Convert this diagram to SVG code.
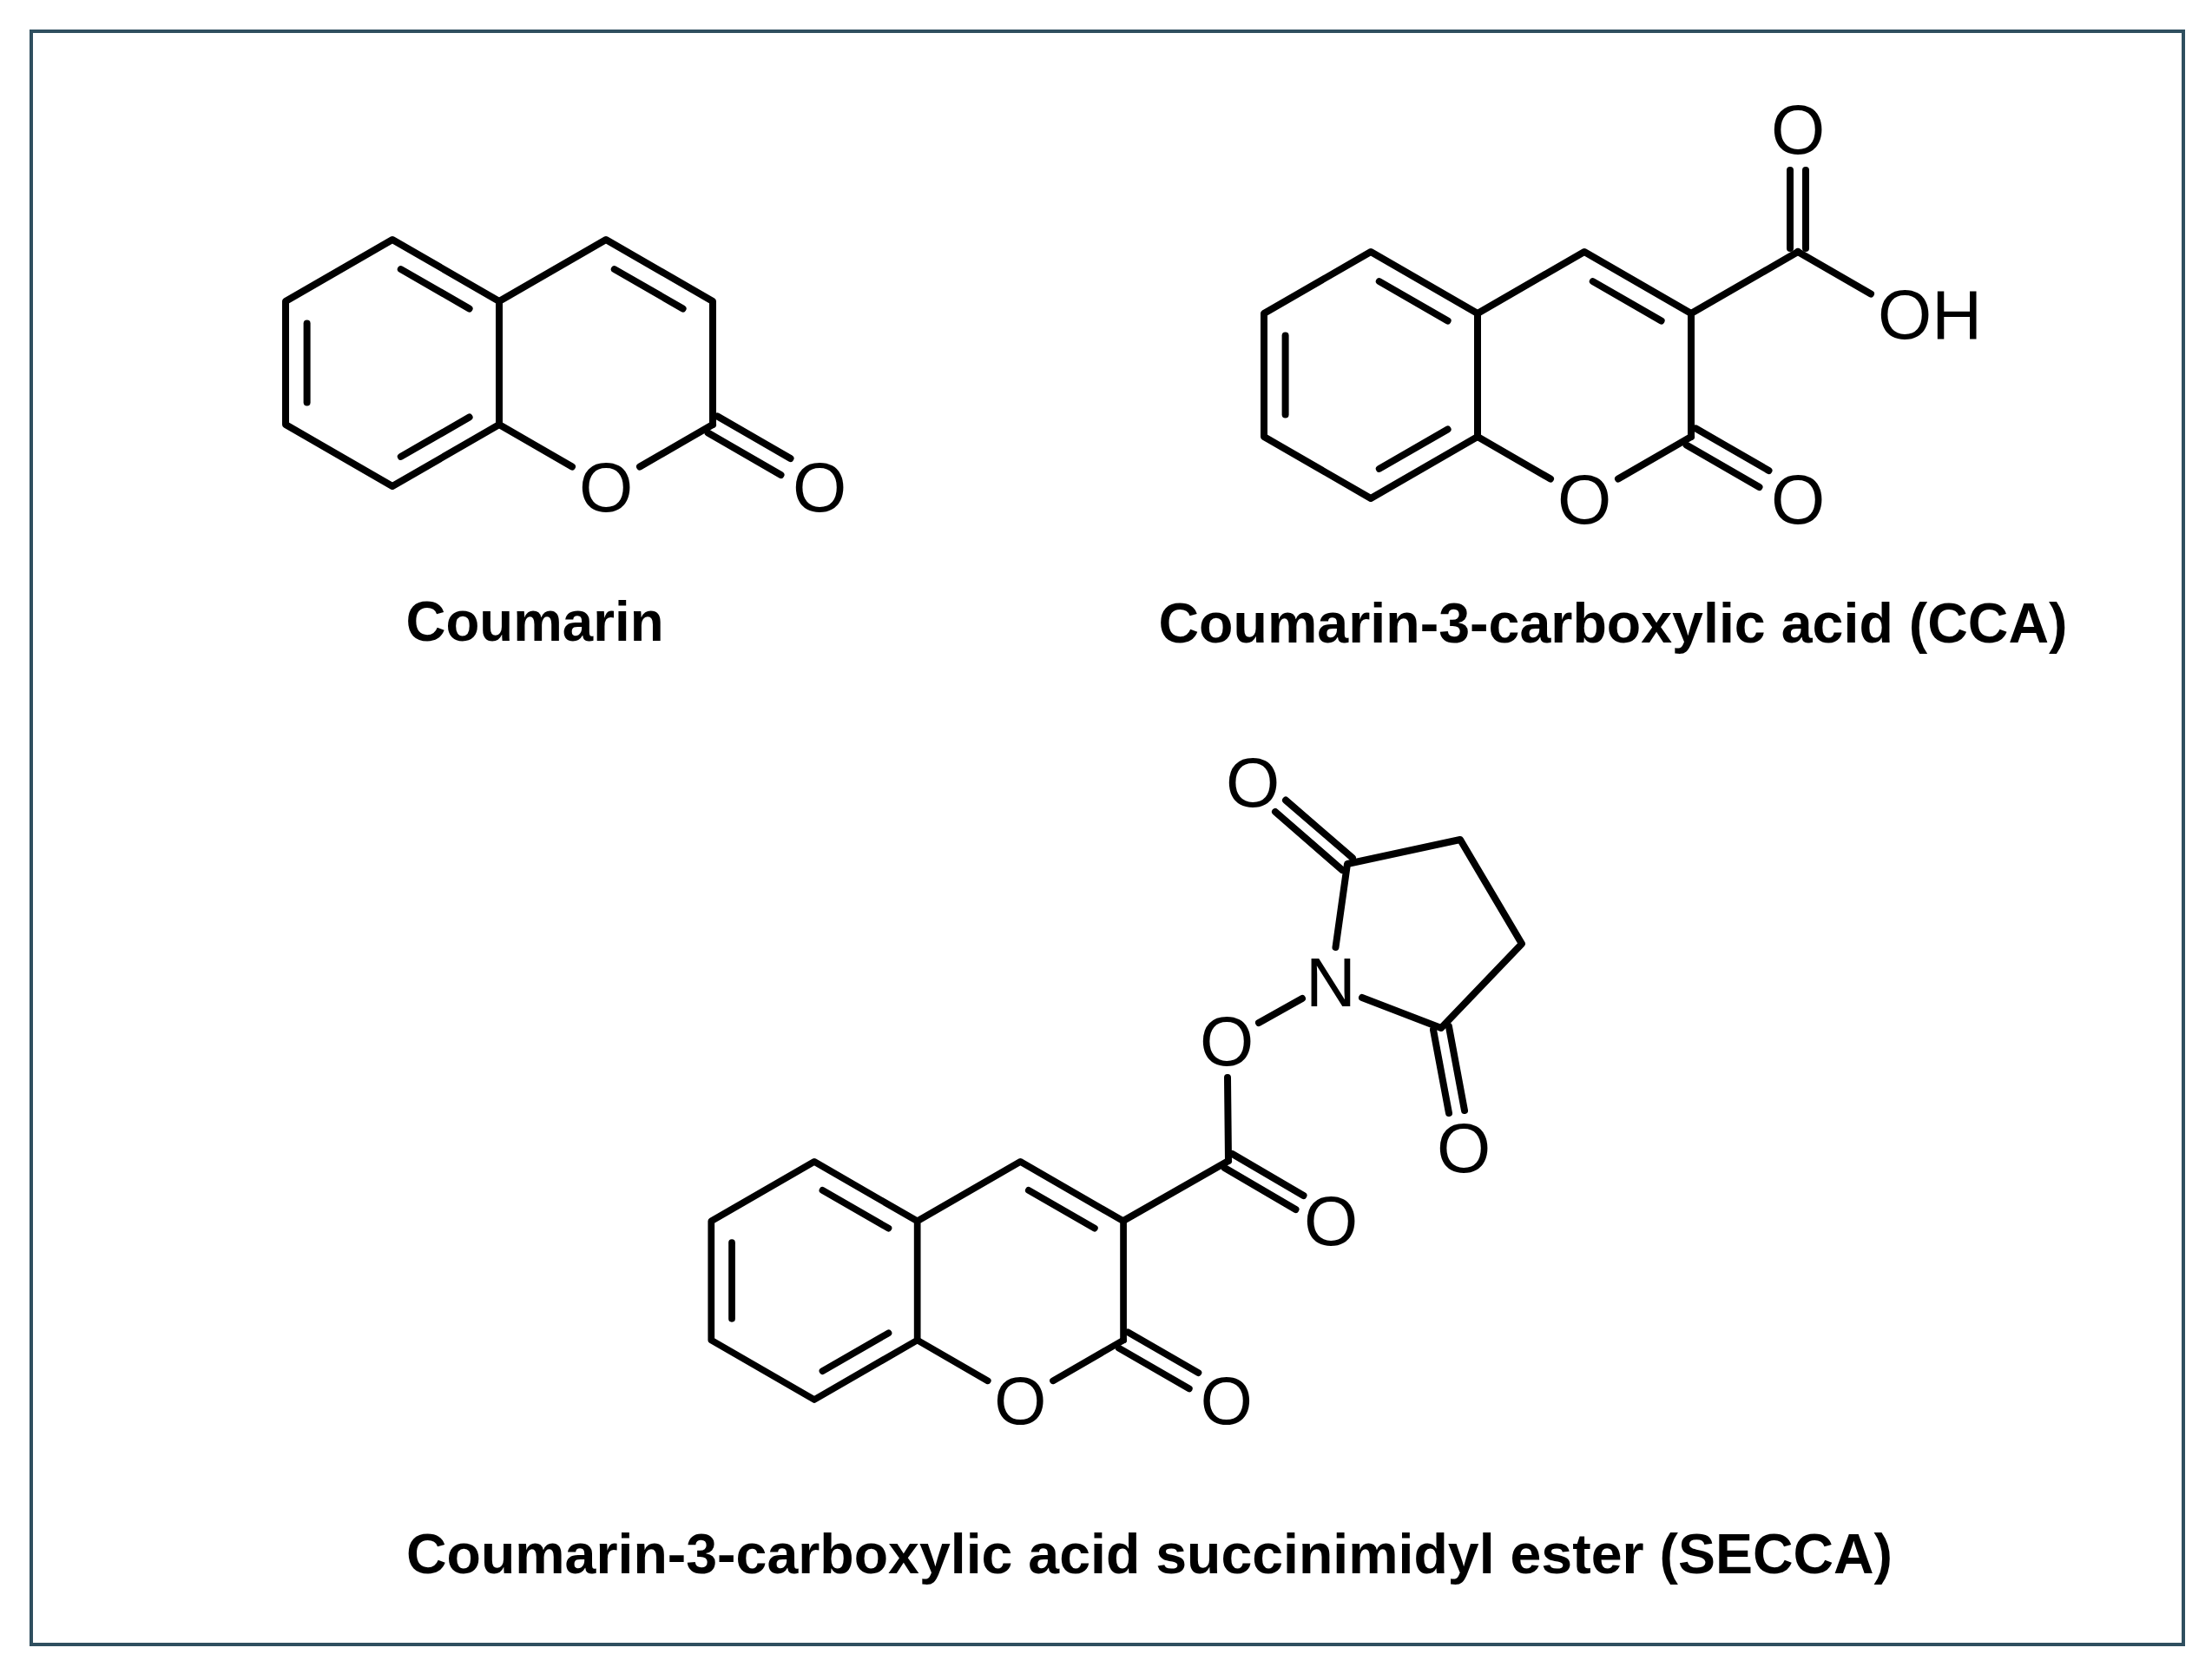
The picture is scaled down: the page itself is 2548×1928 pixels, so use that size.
<svg xmlns="http://www.w3.org/2000/svg" width="2548" height="1928" viewBox="0 0 2548 1928">
<style>
.b{stroke:#000;stroke-width:8;fill:none;stroke-linecap:round;stroke-linejoin:round}
.a{font-family:"Liberation Sans",Arial,sans-serif;font-size:80px;fill:#000;text-anchor:middle}
.lbl{font-family:"Liberation Sans",Arial,sans-serif;font-size:64px;font-weight:bold;fill:#000;text-anchor:middle}
</style>
<defs>
<g id="core">
<polyline class="b" points="575,347 452,276 329,347 329,489 452,560 575,489 575,347 698,276 821,347 821,489"/>
<line class="b" x1="461.8" y1="310.1" x2="540.6" y2="355.5"/>
<line class="b" x1="353.6" y1="372.6" x2="353.6" y2="463.4"/>
<line class="b" x1="461.8" y1="525.9" x2="540.6" y2="480.5"/>
<line class="b" x1="707.8" y1="310.1" x2="786.6" y2="355.5"/>
<line class="b" x1="575" y1="489" x2="659" y2="537.5"/>
<line class="b" x1="821" y1="489" x2="737" y2="537.5"/>
<line class="b" x1="826.5" y1="479.5" x2="910.5" y2="528"/>
<line class="b" x1="815.5" y1="498.5" x2="899.5" y2="547"/>
<text class="a" x="698" y="589">O</text>
<text class="a" x="944" y="589">O</text>
</g>
</defs>
<rect x="36" y="36" width="2479" height="1858" fill="#fff" stroke="#2f4f5f" stroke-width="4"/>
<g id="coumarin">
<use href="#core"/>
<text class="lbl" x="616" y="738" textLength="297" lengthAdjust="spacingAndGlyphs">Coumarin</text>
</g>
<g id="cca">
<g transform="translate(1127,14)">
<use href="#core"/>
<line class="b" x1="821" y1="347" x2="944" y2="276"/>
<line class="b" x1="935" y1="272" x2="935" y2="182"/>
<line class="b" x1="953" y1="272" x2="953" y2="182"/>
<line class="b" x1="944" y1="276" x2="1028" y2="324.5"/>
<text class="a" x="944" y="163">O</text>
<text class="a" x="1036" y="376" style="text-anchor:start">OH</text>
</g>
<text class="lbl" x="1858" y="740" textLength="1047" lengthAdjust="spacingAndGlyphs">Coumarin-3-carboxylic acid (CCA)</text>
</g>
<g id="secca">
<g transform="translate(501.8,1071.6) scale(0.965)">
<use href="#core"/>
</g>
<line class="b" x1="1294" y1="1406" x2="1415" y2="1337"/>
<line class="b" x1="1419.5" y1="1329" x2="1501.5" y2="1377"/>
<line class="b" x1="1410.5" y1="1345" x2="1492.5" y2="1393"/>
<line class="b" x1="1415" y1="1337" x2="1414" y2="1241"/>
<line class="b" x1="1450" y1="1178" x2="1500" y2="1150"/>
<polyline class="b" points="1538.5,1091 1552,995 1682,967 1753,1087 1660,1184 1569,1149"/>
<line class="b" x1="1557.9" y1="988" x2="1481" y2="921.6"/>
<line class="b" x1="1546" y1="1002" x2="1469" y2="935"/>
<line class="b" x1="1668.9" y1="1182" x2="1687" y2="1279"/>
<line class="b" x1="1651" y1="1186" x2="1669" y2="1282"/>
<text class="a" x="1533" y="1434">O</text>
<text class="a" x="1413" y="1227">O</text>
<text class="a" x="1533" y="1159">N</text>
<text class="a" x="1443" y="929">O</text>
<text class="a" x="1686" y="1350">O</text>
<text class="lbl" x="1324" y="1812" textLength="1712" lengthAdjust="spacingAndGlyphs">Coumarin-3-carboxylic acid succinimidyl ester (SECCA)</text>
</g>
</svg>
